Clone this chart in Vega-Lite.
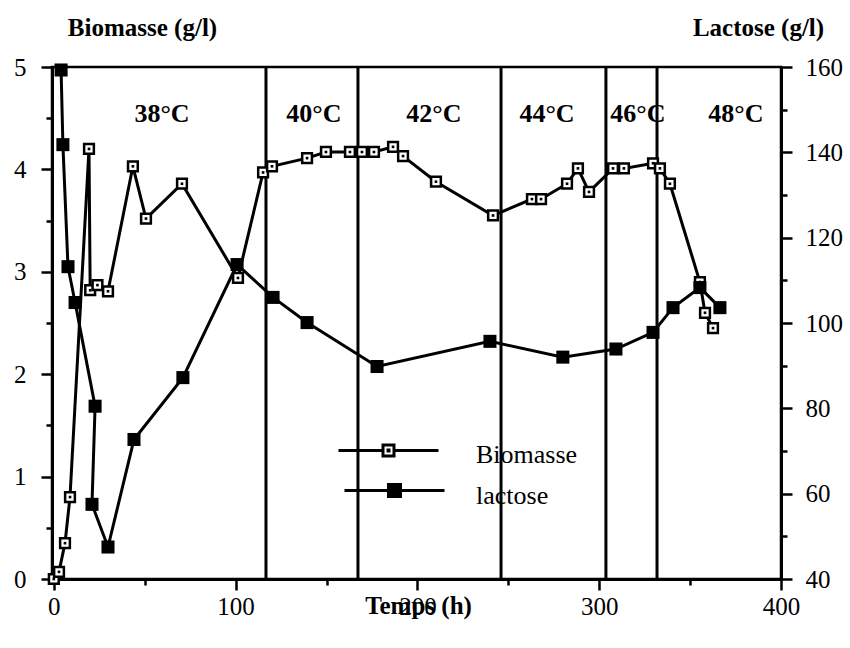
{
  "$schema": "https://vega.github.io/schema/vega-lite/v6.json",
  "width": 729,
  "height": 512,
  "autosize": {"type": "none"},
  "padding": {"left": 52, "top": 67, "right": 69, "bottom": 69},
  "background": "white",
  "config": {
    "font": "Liberation Serif",
    "view": {"stroke": "black", "strokeWidth": 2.5},
    "axis": {
      "grid": false,
      "domainColor": "black",
      "domainWidth": 3,
      "tickColor": "black",
      "tickWidth": 2.5,
      "labelColor": "black",
      "labelFont": "Liberation Serif",
      "labelFontSize": 25,
      "titleFont": "Liberation Serif",
      "titleFontSize": 25,
      "titleFontWeight": "bold",
      "titleColor": "black"
    },
    "legend": {"labelFont": "Liberation Serif", "labelFontSize": 26, "labelColor": "black", "padding": 0}
  },
  "datasets": {
    "biomasse": [
      {"i": 1, "t": 0, "v": 0.0},
      {"i": 2, "t": 2.85, "v": 0.07},
      {"i": 3, "t": 6.15, "v": 0.35},
      {"i": 4, "t": 8.9, "v": 0.80},
      {"i": 5, "t": 19.35, "v": 4.20},
      {"i": 6, "t": 20, "v": 2.82},
      {"i": 7, "t": 24, "v": 2.87},
      {"i": 8, "t": 29.8, "v": 2.81},
      {"i": 9, "t": 43.5, "v": 4.03},
      {"i": 10, "t": 50.7, "v": 3.52},
      {"i": 11, "t": 70.5, "v": 3.86},
      {"i": 12, "t": 101.3, "v": 2.94},
      {"i": 13, "t": 115.1, "v": 3.97},
      {"i": 14, "t": 120, "v": 4.03},
      {"i": 15, "t": 139.3, "v": 4.11},
      {"i": 16, "t": 149.7, "v": 4.17},
      {"i": 17, "t": 162.9, "v": 4.17},
      {"i": 18, "t": 169.5, "v": 4.17},
      {"i": 19, "t": 176.1, "v": 4.17},
      {"i": 20, "t": 186.6, "v": 4.22},
      {"i": 21, "t": 192.1, "v": 4.13},
      {"i": 22, "t": 210.2, "v": 3.88},
      {"i": 23, "t": 241.6, "v": 3.55},
      {"i": 24, "t": 263, "v": 3.71},
      {"i": 25, "t": 268, "v": 3.71},
      {"i": 26, "t": 282.3, "v": 3.86},
      {"i": 27, "t": 288.3, "v": 4.01},
      {"i": 28, "t": 294.4, "v": 3.78},
      {"i": 29, "t": 307.6, "v": 4.01},
      {"i": 30, "t": 313.6, "v": 4.01},
      {"i": 31, "t": 329.6, "v": 4.06},
      {"i": 32, "t": 333.4, "v": 4.01},
      {"i": 33, "t": 338.9, "v": 3.86},
      {"i": 34, "t": 355.4, "v": 2.90},
      {"i": 35, "t": 358.2, "v": 2.60},
      {"i": 36, "t": 362.6, "v": 2.45}
    ],
    "lactose": [
      {"i": 1, "t": 4, "v": 159.3},
      {"i": 2, "t": 5, "v": 141.8},
      {"i": 3, "t": 7.8, "v": 113.2},
      {"i": 4, "t": 11.7, "v": 104.8},
      {"i": 5, "t": 22.7, "v": 80.5},
      {"i": 6, "t": 21, "v": 57.5},
      {"i": 7, "t": 29.8, "v": 47.5},
      {"i": 8, "t": 44.1, "v": 72.7},
      {"i": 9, "t": 71, "v": 87.2},
      {"i": 10, "t": 100.8, "v": 113.7},
      {"i": 11, "t": 120.6, "v": 106.0},
      {"i": 12, "t": 139.3, "v": 100.1},
      {"i": 13, "t": 177.8, "v": 89.8},
      {"i": 14, "t": 239.9, "v": 95.7},
      {"i": 15, "t": 280, "v": 92.0},
      {"i": 16, "t": 309.2, "v": 93.9},
      {"i": 17, "t": 329.6, "v": 97.8},
      {"i": 18, "t": 340.6, "v": 103.6},
      {"i": 19, "t": 355.4, "v": 108.3},
      {"i": 20, "t": 366.4, "v": 103.6}
    ],
    "paliers": [
      {"t": 116.7},
      {"t": 167.3},
      {"t": 246},
      {"t": 303.7},
      {"t": 331.8}
    ],
    "temperatures": [
      {"t": 59.5, "label": "38°C"},
      {"t": 143.1, "label": "40°C"},
      {"t": 209.1, "label": "42°C"},
      {"t": 271.3, "label": "44°C"},
      {"t": 321.3, "label": "46°C"},
      {"t": 375.2, "label": "48°C"}
    ]
  },
  "encoding": {
    "x": {
      "field": "t",
      "type": "quantitative",
      "scale": {"domain": [-1, 400], "nice": false, "zero": false},
      "axis": {
        "values": [0, 50, 100, 150, 200, 250, 300, 350, 400],
        "labelExpr": "datum.value % 100 ? '' : '' + datum.value",
        "tickSize": {"condition": {"test": "datum.value % 100 === 0", "value": 11}, "value": 6},
        "labelFlush": false,
        "labelPadding": 4,
        "title": "Temps (h)",
        "titleX": 366,
        "titleY": 34,
        "titleAlign": "center",
        "titleBaseline": "alphabetic"
      }
    }
  },
  "layer": [
    {
      "layer": [
        {
          "data": {"name": "paliers"},
          "mark": {"type": "rule", "color": "black", "strokeWidth": 3},
          "encoding": {}
        },
        {
          "data": {"name": "temperatures"},
          "mark": {"type": "text", "font": "Liberation Serif", "fontSize": 26, "fontWeight": "bold", "color": "black", "align": "center", "baseline": "middle"},
          "encoding": {
            "y": {"datum": 4.54, "type": "quantitative", "scale": {"domain": [0, 5], "nice": false},
              "axis": {"orient": "left", "values": [0, 0.5, 1, 1.5, 2, 2.5, 3, 3.5, 4, 4.5, 5], "labelExpr": "datum.value % 1 ? '' : '' + datum.value", "tickSize": {"condition": {"test": "datum.value % 1 === 0", "value": 11}, "value": 6}, "labelPadding": 15, "title": "Biomasse (g/l)", "titleAngle": 0, "titleX": 90, "titleY": -32, "titleAlign": "center", "titleBaseline": "alphabetic"}},
            "text": {"field": "label"}
          }
        },
        {
          "data": {"name": "biomasse"},
          "mark": {"type": "line", "color": "black", "strokeWidth": 3},
          "encoding": {
            "y": {"field": "v", "type": "quantitative", "scale": {"domain": [0, 5], "nice": false},
              "axis": {"orient": "left", "values": [0, 0.5, 1, 1.5, 2, 2.5, 3, 3.5, 4, 4.5, 5], "labelExpr": "datum.value % 1 ? '' : '' + datum.value", "tickSize": {"condition": {"test": "datum.value % 1 === 0", "value": 11}, "value": 6}, "labelPadding": 15, "title": "Biomasse (g/l)", "titleAngle": 0, "titleX": 90, "titleY": -32, "titleAlign": "center", "titleBaseline": "alphabetic"}},
            "order": {"field": "i", "type": "quantitative"},
            "color": {
              "datum": "Biomasse",
              "scale": {"range": ["black"]},
              "legend": {
                "orient": "none",
                "legendX": 285,
                "legendY": 336,
                "title": null,
                "symbolType": "M-1,-0.08H-0.11M0.11,-0.08H1M-0.11,-0.19H0.11V0.03H-0.11ZM-0.01,-0.09H0.01V-0.07H-0.01Z",
                "symbolSize": 10000,
                "symbolStrokeWidth": 3,
                "symbolFillColor": "white",
                "symbolStrokeColor": "black",
                "labelOffset": 36,
                "labelFontSize": 26
              }
            }
          }
        },
        {
          "data": {"name": "biomasse"},
          "mark": {"type": "point", "shape": "square", "size": 95, "filled": true, "fill": "white", "stroke": "black", "strokeWidth": 2.5, "opacity": 1},
          "encoding": {
            "y": {"field": "v", "type": "quantitative", "scale": {"domain": [0, 5], "nice": false},
              "axis": {"orient": "left", "values": [0, 0.5, 1, 1.5, 2, 2.5, 3, 3.5, 4, 4.5, 5], "labelExpr": "datum.value % 1 ? '' : '' + datum.value", "tickSize": {"condition": {"test": "datum.value % 1 === 0", "value": 11}, "value": 6}, "labelPadding": 15, "title": "Biomasse (g/l)", "titleAngle": 0, "titleX": 90, "titleY": -32, "titleAlign": "center", "titleBaseline": "alphabetic"}}
          }
        },
        {
          "data": {"name": "biomasse"},
          "mark": {"type": "point", "shape": "square", "size": 7, "filled": true, "color": "black", "opacity": 1},
          "encoding": {
            "y": {"field": "v", "type": "quantitative", "scale": {"domain": [0, 5], "nice": false},
              "axis": {"orient": "left", "values": [0, 0.5, 1, 1.5, 2, 2.5, 3, 3.5, 4, 4.5, 5], "labelExpr": "datum.value % 1 ? '' : '' + datum.value", "tickSize": {"condition": {"test": "datum.value % 1 === 0", "value": 11}, "value": 6}, "labelPadding": 15, "title": "Biomasse (g/l)", "titleAngle": 0, "titleX": 90, "titleY": -32, "titleAlign": "center", "titleBaseline": "alphabetic"}}
          }
        }
      ]
    },
    {
      "layer": [
        {
          "data": {"name": "lactose"},
          "mark": {"type": "line", "color": "black", "strokeWidth": 3},
          "encoding": {
            "y": {"field": "v", "type": "quantitative", "scale": {"domain": [40, 160], "nice": false, "zero": false},
              "axis": {"orient": "right", "values": [40, 50, 60, 70, 80, 90, 100, 110, 120, 130, 140, 150, 160], "labelExpr": "datum.value % 20 ? '' : '' + datum.value", "tickSize": {"condition": {"test": "datum.value % 20 === 0", "value": 11}, "value": 6}, "labelPadding": 13, "title": "Lactose (g/l)", "titleAngle": 0, "titleX": -23, "titleY": -32, "titleAlign": "center", "titleBaseline": "alphabetic"}},
            "order": {"field": "i", "type": "quantitative"},
            "color": {
              "datum": "lactose",
              "scale": {"range": ["black"]},
              "legend": {
                "orient": "none",
                "legendX": 291,
                "legendY": 377,
                "title": null,
                "symbolType": "M-1,-0.1H1M-0.12,-0.22H0.12V0.02H-0.12Z",
                "symbolSize": 10000,
                "symbolStrokeWidth": 3,
                "symbolFillColor": "black",
                "symbolStrokeColor": "black",
                "labelOffset": 30,
                "labelFontSize": 26
              }
            }
          }
        },
        {
          "data": {"name": "lactose"},
          "mark": {"type": "point", "shape": "square", "size": 170, "filled": true, "color": "black", "opacity": 1},
          "encoding": {
            "y": {"field": "v", "type": "quantitative", "scale": {"domain": [40, 160], "nice": false, "zero": false},
              "axis": {"orient": "right", "values": [40, 50, 60, 70, 80, 90, 100, 110, 120, 130, 140, 150, 160], "labelExpr": "datum.value % 20 ? '' : '' + datum.value", "tickSize": {"condition": {"test": "datum.value % 20 === 0", "value": 11}, "value": 6}, "labelPadding": 13, "title": "Lactose (g/l)", "titleAngle": 0, "titleX": -23, "titleY": -32, "titleAlign": "center", "titleBaseline": "alphabetic"}}
          }
        }
      ]
    }
  ],
  "resolve": {"scale": {"y": "independent", "color": "independent"}}
}
